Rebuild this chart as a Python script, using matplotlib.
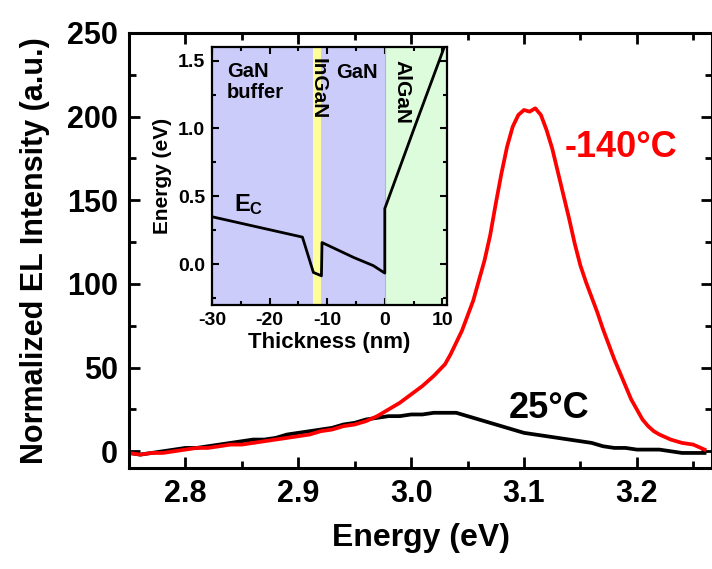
import matplotlib
matplotlib.use("Agg")
import matplotlib.pyplot as plt
from matplotlib.ticker import MultipleLocator

plt.rcParams['font.family'] = ['Liberation Sans', 'DejaVu Sans']
plt.rcParams['font.weight'] = 'bold'
plt.rcParams['axes.unicode_minus'] = False
plt.rcParams['mathtext.fontset'] = 'custom'
plt.rcParams['mathtext.bf'] = 'Liberation Sans:bold'
plt.rcParams['mathtext.rm'] = 'Liberation Sans:bold'

# EL spectra
energy_25c = [2.75, 2.76, 2.77, 2.78, 2.79, 2.80, 2.81, 2.82, 2.83, 2.84, 2.85, 2.86, 2.87,
              2.88, 2.89, 2.90, 2.91, 2.92, 2.93, 2.94, 2.95, 2.96, 2.97, 2.98, 2.99, 3.00,
              3.01, 3.02, 3.03, 3.04, 3.05, 3.06, 3.07, 3.08, 3.09, 3.10, 3.11, 3.12, 3.13,
              3.14, 3.15, 3.16, 3.17, 3.18, 3.19, 3.20, 3.21, 3.22, 3.23, 3.24, 3.25, 3.26]
el_25c = [-1, -2, -1, 0, 1, 2, 2, 3, 4, 5, 6, 7, 7,
          8, 10, 11, 12, 13, 14, 16, 17, 19, 20, 21, 21, 22,
          22, 23, 23, 23, 21, 19, 17, 15, 13, 11, 10, 9, 8,
          7, 6, 5, 3, 2, 2, 1, 1, 1, 0, -1, -1, -1]

energy_m140c = [2.75, 2.76, 2.77, 2.78, 2.79, 2.80, 2.81, 2.82, 2.83, 2.84, 2.85, 2.86, 2.87,
                2.88, 2.89, 2.90, 2.91, 2.92, 2.93, 2.94, 2.95, 2.96, 2.97, 2.98, 2.99, 3.00,
                3.01, 3.02, 3.03, 3.035, 3.04, 3.045, 3.05, 3.055, 3.06, 3.065, 3.07, 3.075,
                3.08, 3.085, 3.09, 3.095, 3.10, 3.105, 3.11, 3.115, 3.12, 3.125, 3.13, 3.135,
                3.14, 3.145, 3.15, 3.155, 3.16, 3.165, 3.17, 3.175, 3.18, 3.185, 3.19, 3.195,
                3.20, 3.205, 3.21, 3.215, 3.22, 3.23, 3.24, 3.25, 3.26]
el_m140c = [-1, -2, -1, -1, 0, 1, 2, 2, 3, 4, 4, 5, 6,
            7, 8, 9, 10, 12, 13, 15, 16, 18, 21, 25, 29, 34,
            39, 45, 52, 58, 65, 72, 81, 90, 102, 114, 129, 148,
            166, 182, 194, 201, 204, 203, 205, 201, 192, 181, 167, 153,
            139, 124, 111, 101, 92, 83, 73, 64, 55, 47, 39, 31,
            25, 19, 15, 12, 10, 7, 5, 4, 1]

# inset: conduction band edge
thick = [-30, -14.3, -12.4, -11.0, -10.9, -5.4, -2.0, 0.0, 0.0, 5.0, 10.2]
ec = [0.35, 0.20, -0.06, -0.085, 0.16, 0.05, -0.01, -0.065, 0.41, 0.99, 1.585]
layers = [(-30, -12.5, '#ccccfa'), (-12.5, -11.0, '#ffff99'), (-11.0, 0.0, '#ccccfa'), (0.0, 10.8, '#dcfcdc')]

fig = plt.figure(figsize=(7.12, 5.69), dpi=100)
ax = fig.add_axes([129 / 712, 101 / 569, 583 / 712, 435 / 569])
ax.plot(energy_25c, el_25c, color='black', lw=2.7)
ax.plot(energy_m140c, el_m140c, color='#ff0000', lw=2.7)
ax.set_xlim(2.75, 3.2666)
ax.set_ylim(-10, 250)
ax.xaxis.set_major_locator(MultipleLocator(0.1))
ax.xaxis.set_minor_locator(MultipleLocator(0.05))
ax.yaxis.set_major_locator(MultipleLocator(50))
ax.yaxis.set_minor_locator(MultipleLocator(25))
ax.tick_params(which='both', direction='in', top=True, right=True, width=2, labelsize=22, pad=8)
ax.tick_params(which='major', length=8)
ax.tick_params(which='minor', length=5)
ax.set_xticklabels([f'{t:.1f}' for t in ax.get_xticks()])
for s in ax.spines.values():
    s.set_linewidth(2.2)
ax.set_xlabel('Energy (eV)', fontsize=23, fontweight='bold', labelpad=10)
ax.set_ylabel('Normalized EL Intensity (a.u.)', fontsize=22, fontweight='bold', labelpad=12)
ax.text(3.186, 181.5, '-140°C', color='#ff0000', fontsize=26, fontweight='bold', ha='center', va='center')
ax.text(3.122, 25.7, '25°C', color='black', fontsize=26, fontweight='bold', ha='center', va='center')

# inset
ins = fig.add_axes([212 / 712, 264 / 569, 235 / 712, 258 / 569])
for x0, x1, c in layers:
    ins.axvspan(x0, x1, color=c, lw=0)
ins.axvline(0, color='#aab0ff', lw=0.8)
ins.plot(thick, ec, color='black', lw=2.0)
ins.set_xlim(-30, 10.8)
ins.set_ylim(-0.3, 1.6)
ins.xaxis.set_major_locator(MultipleLocator(10))
ins.xaxis.set_minor_locator(MultipleLocator(5))
ins.yaxis.set_major_locator(MultipleLocator(0.5))
ins.yaxis.set_minor_locator(MultipleLocator(0.25))
ins.tick_params(which='both', direction='in', top=True, right=True, width=1.5, labelsize=14, pad=5)
ins.tick_params(which='major', length=5)
ins.tick_params(which='minor', length=3)
ins.set_yticklabels([f'{t:.1f}' for t in ins.get_yticks()])
for s in ins.spines.values():
    s.set_linewidth(1.6)
ins.set_xlabel('Thickness (nm)', fontsize=16, fontweight='bold', labelpad=2)
ins.set_ylabel('Energy (eV)', fontsize=15, fontweight='bold', labelpad=4)
ins.text(-27.4, 1.49, 'GaN\nbuffer', fontsize=14.5, fontweight='bold', ha='left', va='top', linespacing=1.15)
ins.text(-4.8, 1.41, 'GaN', fontsize=14.5, fontweight='bold', ha='center', va='center')
ins.text(-11.6, 1.29, 'InGaN', fontsize=15, fontweight='bold', ha='center', va='center', rotation=-90)
ins.text(3.0, 1.27, 'AlGaN', fontsize=15, fontweight='bold', ha='center', va='center', rotation=-90)
ins.text(-26.2, 0.39, r'$\mathbf{E_C}$', fontsize=17, ha='left', va='baseline')

fig.savefig('out.png', dpi=100)
